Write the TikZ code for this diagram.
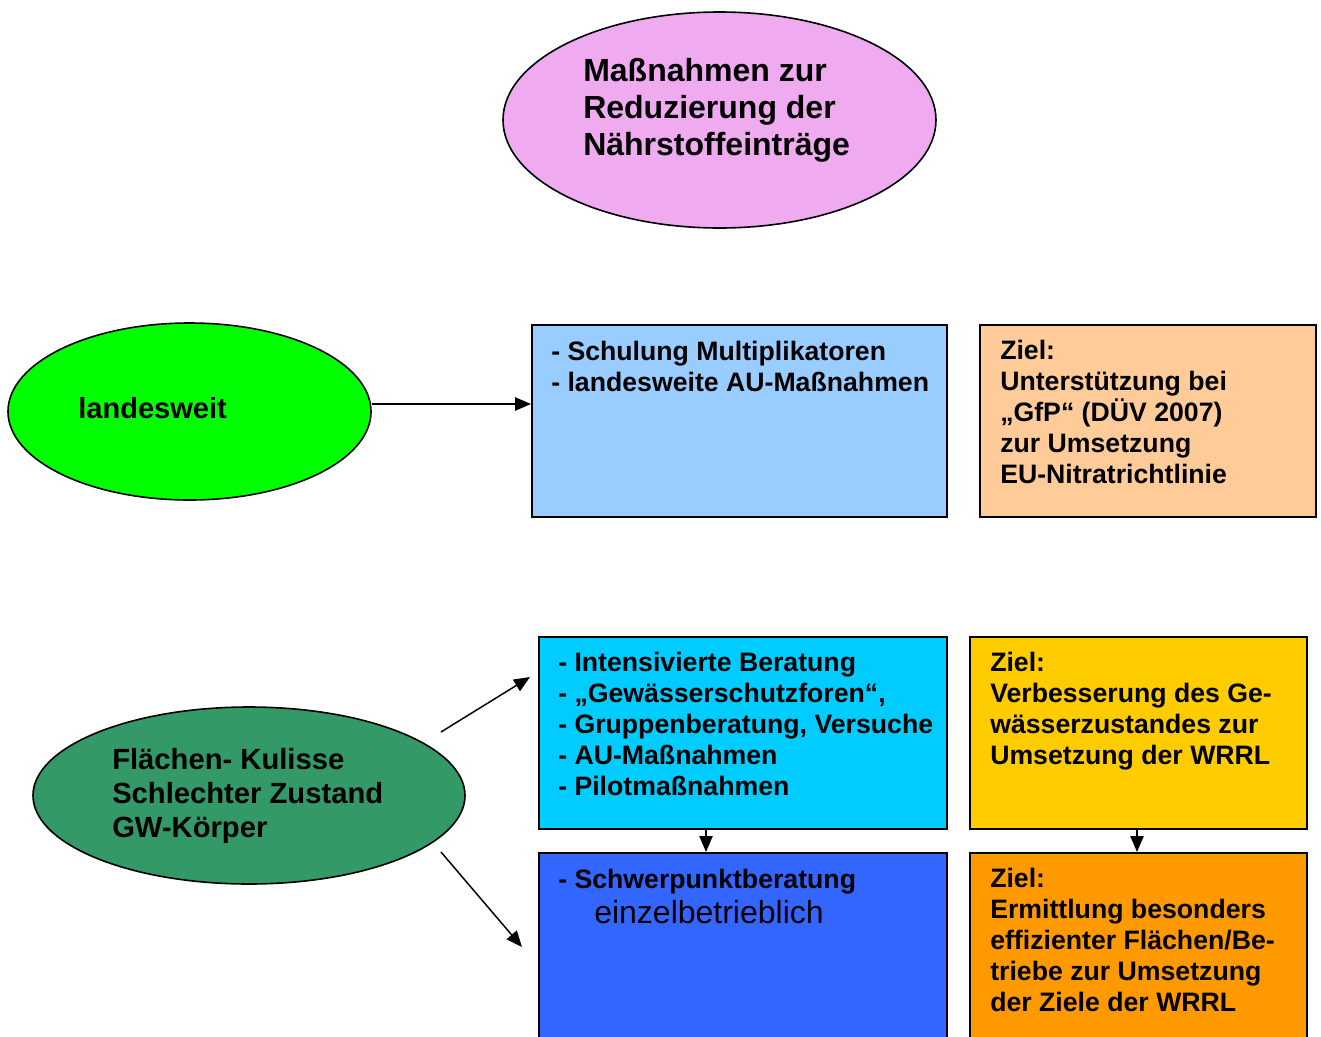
\documentclass[tikz,border=0pt]{standalone}
\usepackage{fontspec}
\setmainfont{Liberation Sans}
\usetikzlibrary{arrows.meta,shapes.geometric}
\definecolor{pinkfill}{RGB}{240,170,240}
\definecolor{lgreen}{RGB}{0,255,0}
\definecolor{dgreen}{RGB}{51,153,102}
\definecolor{lblue}{RGB}{153,204,255}
\definecolor{peach}{RGB}{255,204,153}
\definecolor{cyanbox}{RGB}{0,204,255}
\definecolor{yellowbox}{RGB}{255,204,0}
\definecolor{bluebox}{RGB}{51,102,255}
\definecolor{orangebox}{RGB}{255,153,0}
\tikzset{
  ell/.style={ellipse, draw=black, line width=1.2pt, inner sep=0pt},
  box/.style={rectangle, draw=black, line width=1.2pt, inner sep=0pt, anchor=north west},
  txt/.style={anchor=base west, inner sep=0pt, align=left, font=\fontsize{20pt}{23.1pt}\selectfont\bfseries},
  arr/.style={line width=1.1pt, -{Triangle[length=12pt,width=10pt]}}
}
\begin{document}
\begin{tikzpicture}[x=0.75pt,y=-0.75pt]
\clip (0,0) rectangle (1321,1036);
\fill[white] (0,0) rectangle (1321,1036);
% top ellipse
\node[ell, fill=pinkfill, minimum width=433*0.75pt, minimum height=216*0.75pt] (top) at (719.5,120) {};
\node[anchor=base west, inner sep=0pt, align=left, font=\fontsize{24pt}{27.75pt}\selectfont\bfseries] (toptxt) at (583,155) {Maßnahmen zur\\Reduzierung der\\Nährstoffeinträge};
% landesweit
\node[ell, fill=lgreen, minimum width=363*0.75pt, minimum height=177*0.75pt] (lw) at (189.5,411.5) {};
\node[anchor=base west, inner sep=0pt, font=\fontsize{21.8pt}{25pt}\selectfont\bfseries] (lwtxt) at (78,418) {landesweit};
\node[box, fill=lblue, minimum width=415*0.75pt, minimum height=192*0.75pt] (b1) at (531,324) {};
\node[txt] (b1t) at (551,391) {- Schulung Multiplikatoren\\- landesweite AU-Maßnahmen};
\node[box, fill=peach, minimum width=336*0.75pt, minimum height=192*0.75pt] (b2) at (979,324) {};
\node[txt] (b2t) at (1000,483) {Ziel:\\Unterstützung bei\\„GfP“ (DÜV 2007)\\zur Umsetzung\\EU-Nitratrichtlinie};
\draw[arr] (lw.east |- 0,404) -- (b1.west |- 0,404);
% Flaechen-Kulisse
\node[ell, fill=dgreen, minimum width=432*0.75pt, minimum height=177*0.75pt] (fk) at (249,795.5) {};
\node[anchor=base west, inner sep=0pt, align=left, font=\fontsize{21.9pt}{25.5pt}\selectfont\bfseries] (fktxt) at (112,837) {Flächen- Kulisse\\Schlechter Zustand\\GW-Körper};
\node[box, fill=cyanbox, minimum width=408*0.75pt, minimum height=192*0.75pt] (b3) at (538,636) {};
\node[txt] (b3t) at (558,795) {- Intensivierte Beratung\\- „Gewässerschutzforen“,\\- Gruppenberatung, Versuche\\- AU-Maßnahmen\\- Pilotmaßnahmen};
\node[box, fill=yellowbox, minimum width=337*0.75pt, minimum height=192*0.75pt] (b4) at (969,636) {};
\node[txt] (b4t) at (990,764) {Ziel:\\Verbesserung des Ge-\\wässerzustandes zur\\Umsetzung der WRRL};
\node[box, fill=bluebox, minimum width=408*0.75pt, minimum height=200*0.75pt] (b5) at (538,852) {};
\node[txt] (b5t) at (558,888) {- Schwerpunktberatung};
\node[anchor=base west, inner sep=0pt, font=\fontsize{24pt}{26pt}\selectfont] (b5t2) at (594,923) {einzelbetrieblich};
\node[box, fill=orangebox, minimum width=337*0.75pt, minimum height=200*0.75pt] (b6) at (969,852) {};
\node[txt] (b6t) at (990,1011) {Ziel:\\Ermittlung besonders\\effizienter Flächen/Be-\\triebe zur Umsetzung\\der Ziele der WRRL};
% arrows
\coordinate (a1s) at (441,732);
\coordinate (a1e) at (530,677);
\coordinate (a2s) at (441,852);
\coordinate (a2e) at (522,947);
\draw[arr] (a1s) -- (a1e);
\draw[arr] (a2s) -- (a2e);
\draw[arr] (b3.south -| 706,0) -- (b5.north -| 706,0);
\draw[arr] (b4.south -| 1137,0) -- (b6.north -| 1137,0);
\end{tikzpicture}
\end{document}
